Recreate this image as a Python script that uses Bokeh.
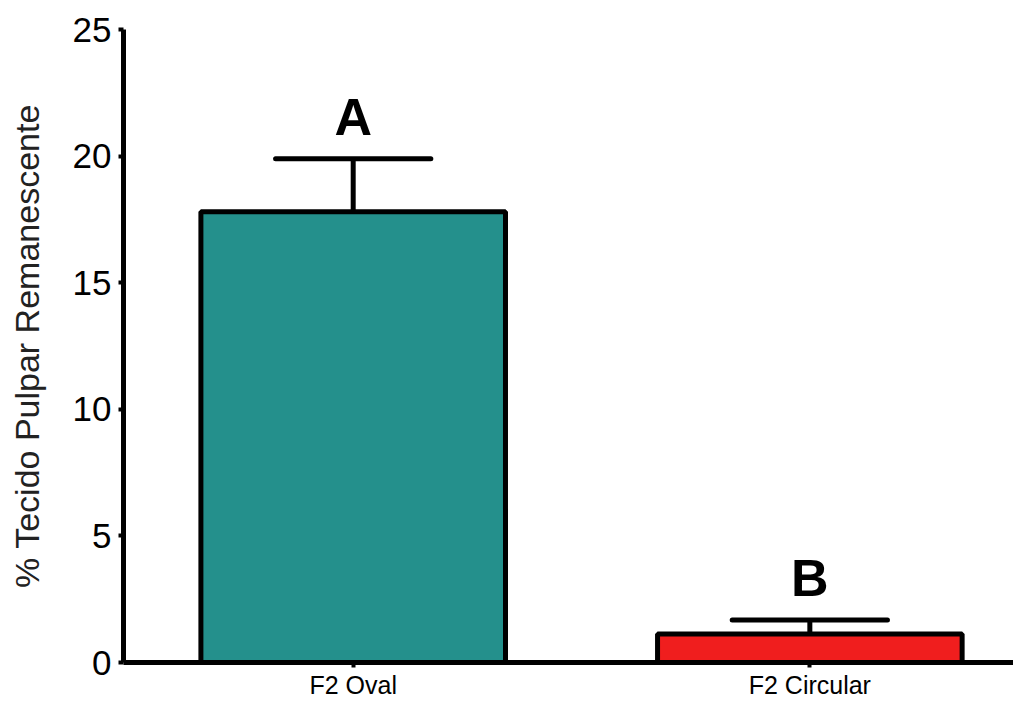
from bokeh.plotting import figure
from bokeh.models import Range1d, ColumnDataSource, FixedTicker
from bokeh.core.properties import value
from bokeh.embed import file_html
from bokeh.resources import INLINE

categories = ["F2 Oval", "F2 Circular"]
means = [17.8, 1.13]
errors = [2.1, 0.55]
letters = ["A", "B"]
colors = ["#24908c", "#f01e1e"]
y_ticks = [0, 5, 10, 15, 20, 25]

xs = list(range(len(categories)))
tops = [m + e for m, e in zip(means, errors)]
cap_half = 0.17

src = ColumnDataSource(dict(
    x=xs, mean=means, top=tops, letter=letters, color=colors,
    x0=[x - cap_half for x in xs], x1=[x + cap_half for x in xs],
))

FONT = "Liberation Sans"

p = figure(width=1013, height=703, output_backend="svg", toolbar_location=None,
           x_range=Range1d(-0.503, 1.446), y_range=Range1d(0, 25),
           min_border_left=123, min_border_top=29, min_border_right=0,
           min_border_bottom=41)
p.outline_line_color = None
p.xgrid.grid_line_color = None
p.ygrid.grid_line_color = None
p.background_fill_color = "white"

# error bars (behind bars)
p.segment(x0="x", y0="mean", x1="x", y1="top", source=src,
          line_color="black", line_width=5)
p.segment(x0="x0", y0="top", x1="x1", y1="top", source=src,
          line_color="black", line_width=5, line_cap="round")

p.vbar(x="x", top="mean", bottom=0, width=0.667, source=src,
       fill_color="color", line_color="black", line_width=5)

p.text(x="x", y="top", text="letter", source=src,
       text_font=value(FONT), text_font_style="bold", text_font_size="52px",
       text_align="center", text_baseline="alphabetic", y_offset=-42,
       text_color="black")

# axes
for ax in (p.xaxis[0], p.yaxis[0]):
    ax.axis_line_width = 5
    ax.axis_line_color = "black"
    ax.major_tick_line_width = 4
    ax.major_tick_line_color = "black"
    ax.major_tick_in = 0
    ax.major_tick_out = 5
    ax.minor_tick_line_color = None
    ax.major_label_text_font = FONT
    ax.major_label_text_color = "black"

p.yaxis.ticker = FixedTicker(ticks=y_ticks)
p.yaxis.major_label_text_font_size = "35px"
p.yaxis.major_label_standoff = 7
p.yaxis.axis_label = "% Tecido Pulpar Remanescente"
p.yaxis.axis_label_text_font = FONT
p.yaxis.axis_label_text_font_size = "34px"
p.yaxis.axis_label_text_font_style = "normal"
p.yaxis.axis_label_text_color = "#222222"
p.yaxis.axis_label_standoff = 24

p.xaxis.ticker = FixedTicker(ticks=xs)
p.xaxis.major_label_overrides = {x: c for x, c in zip(xs, categories)}
p.xaxis.major_label_text_font_size = "25px"
p.xaxis.major_label_standoff = 3

open("out.html", "w").write(file_html(p, INLINE))
